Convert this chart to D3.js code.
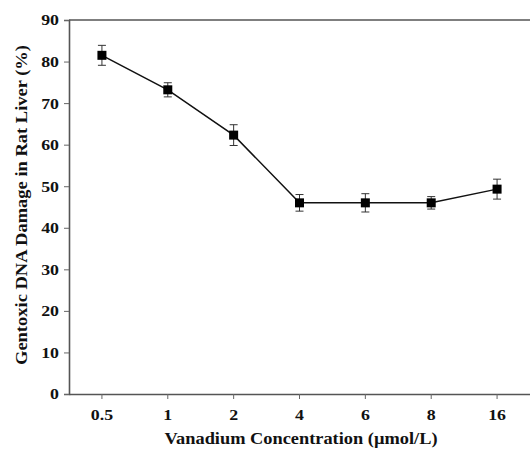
<!DOCTYPE html>
<html><head><meta charset="utf-8">
<script src="https://cdn.jsdelivr.net/npm/d3@7"></script>
<style>body{margin:0;background:#fff}svg{display:block}</style>
</head><body>
<script>
const categories = ["0.5","1","2","4","6","8","16"];
const values = [81.5, 73.2, 62.3, 46.0, 46.0, 46.0, 49.3];
const errors = [2.4, 1.7, 2.5, 2.0, 2.2, 1.5, 2.4];
const yTicks = [0,10,20,30,40,50,60,70,80,90];

const W = 530, H = 450;
const m = {left:69, right:0, top:20, bottom:56};
const svg = d3.select("body").append("svg").attr("width",W).attr("height",H);
const font = "'Liberation Serif','Times New Roman',serif";
const stretch = 1.15;

const x = d3.scaleBand().domain(categories).range([m.left, W - m.right]).padding(0);
const y = d3.scaleLinear().domain([0,90]).range([H - m.bottom, m.top]);

// top border
svg.append("line").attr("x1",m.left).attr("x2",W).attr("y1",y(90)).attr("y2",y(90))
  .attr("stroke","#555").attr("stroke-width",1.6);

const ya = svg.append("g").attr("transform",`translate(${m.left},0)`)
  .call(d3.axisLeft(y).tickValues(yTicks).tickSize(5).tickPadding(5));
const xa = svg.append("g").attr("transform",`translate(0,${y(0)})`)
  .call(d3.axisBottom(x).tickSize(5).tickPadding(10).tickSizeOuter(0));
[ya,xa].forEach(a=>{
  a.selectAll("path").attr("stroke","#555").attr("stroke-width",1.6);
  a.selectAll("line").attr("stroke","#666").attr("stroke-width",1);
  a.selectAll("text").attr("font-family",font).attr("font-weight","bold")
    .attr("font-size",15.5).attr("fill","#111")
    .each(function(){
      const L = this.getComputedTextLength();
      d3.select(this).attr("textLength", L*stretch).attr("lengthAdjust","spacingAndGlyphs");
    });
});

const cx = d => x(d) + x.bandwidth()/2;
const data = categories.map((c,i)=>({c, v:values[i], e:errors[i]}));

// line
svg.append("path").datum(data)
  .attr("d", d3.line().x(d=>cx(d.c)).y(d=>y(d.v)))
  .attr("fill","none").attr("stroke","#111").attr("stroke-width",1.5);

// error bars
const eb = svg.append("g").attr("stroke","#333").attr("stroke-width",1);
data.forEach(d=>{
  const X = cx(d.c);
  eb.append("line").attr("x1",X).attr("x2",X).attr("y1",y(d.v+d.e)).attr("y2",y(d.v-d.e));
  eb.append("line").attr("x1",X-4).attr("x2",X+4).attr("y1",y(d.v+d.e)).attr("y2",y(d.v+d.e));
  eb.append("line").attr("x1",X-4).attr("x2",X+4).attr("y1",y(d.v-d.e)).attr("y2",y(d.v-d.e));
});

// markers
const s = 9;
svg.append("g").selectAll("rect").data(data).join("rect")
  .attr("x",d=>cx(d.c)-s/2).attr("y",d=>y(d.v)-s/2)
  .attr("width",s).attr("height",s).attr("fill","#000");

// titles
svg.append("text").attr("x",301).attr("y",444).attr("text-anchor","middle")
  .attr("font-family",font).attr("font-weight","bold").attr("font-size",16.5).attr("fill","#111")
  .attr("textLength",273).attr("lengthAdjust","spacingAndGlyphs")
  .text("Vanadium Concentration (µmol/L)");
svg.append("text").attr("transform","translate(27,205) rotate(-90)").attr("text-anchor","middle")
  .attr("font-family",font).attr("font-weight","bold").attr("font-size",17).attr("fill","#111")
  .attr("textLength",320).attr("lengthAdjust","spacingAndGlyphs")
  .text("Gentoxic DNA Damage in Rat Liver (%)");
</script>
</body></html>
